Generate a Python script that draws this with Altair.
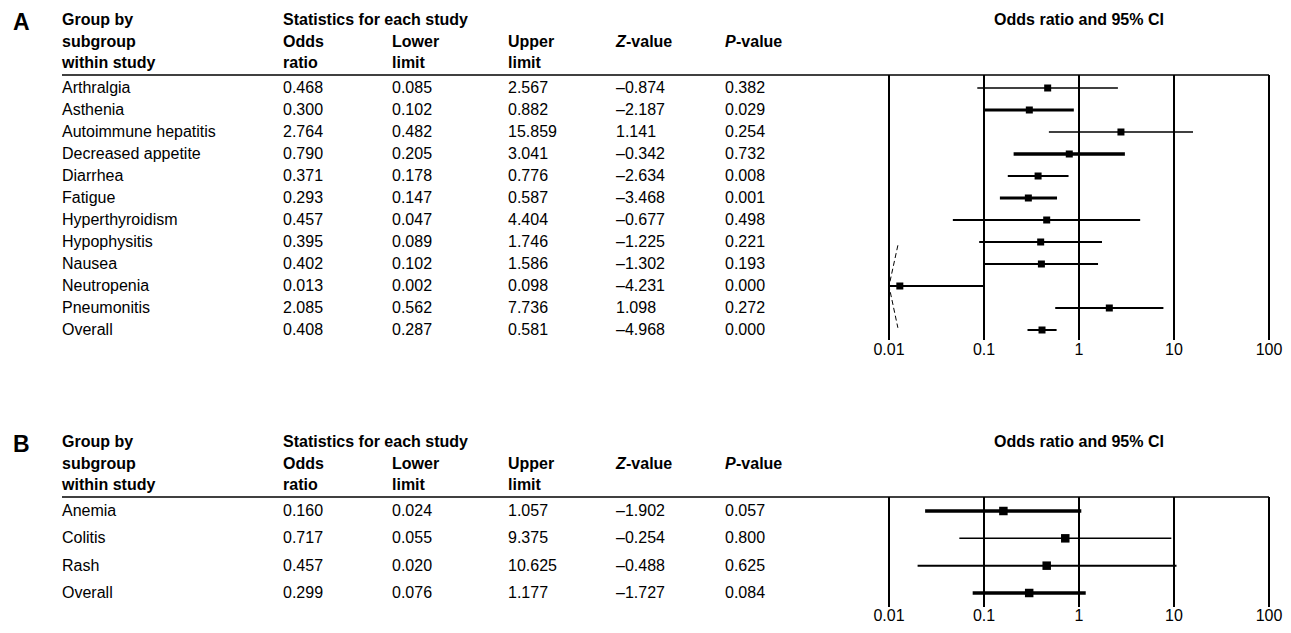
import altair as alt
import pandas as pd
import numpy as np

FONT = "Liberation Sans"

# ---------------- data: panel A ----------------
names_a = ["Arthralgia", "Asthenia", "Autoimmune hepatitis", "Decreased appetite",
           "Diarrhea", "Fatigue", "Hyperthyroidism", "Hypophysitis", "Nausea",
           "Neutropenia", "Pneumonitis", "Overall"]
or_a = [0.468, 0.300, 2.764, 0.790, 0.371, 0.293, 0.457, 0.395, 0.402, 0.013, 2.085, 0.408]
lo_a = [0.085, 0.102, 0.482, 0.205, 0.178, 0.147, 0.047, 0.089, 0.102, 0.002, 0.562, 0.287]
hi_a = [2.567, 0.882, 15.859, 3.041, 0.776, 0.587, 4.404, 1.746, 1.586, 0.098, 7.736, 0.581]
z_a = [-0.874, -2.187, 1.141, -0.342, -2.634, -3.468, -0.677, -1.225, -1.302, -4.231, 1.098, -4.968]
p_a = [0.382, 0.029, 0.254, 0.732, 0.008, 0.001, 0.498, 0.221, 0.193, 0.000, 0.272, 0.000]

# ---------------- data: panel B ----------------
names_b = ["Anemia", "Colitis", "Rash", "Overall"]
or_b = [0.160, 0.717, 0.457, 0.299]
lo_b = [0.024, 0.055, 0.020, 0.076]
hi_b = [1.057, 9.375, 10.625, 1.177]
z_b = [-1.902, -0.254, -0.488, -1.727]
p_b = [0.057, 0.800, 0.625, 0.084]

ticks = [0.01, 0.1, 1, 10, 100]
tick_labels = ["0.01", "0.1", "1", "10", "100"]

# styles (line weights of each CI)
ci_width_a = [1.5, 3, 1.5, 3.5, 2, 3, 2, 2, 2, 2, 2, 2]
ci_width_b = [3.5, 1.5, 2, 3.5]

W, H = 1275, 616
X0, X100 = 881, 1261
xscale = alt.Scale(type="log", domain=[0.01, 100], range=[X0, X100])
COLX = {"name": 54, "or": 275, "lo": 384, "hi": 500, "z": 608, "p": 717}


def fmt(v):
    return f"{v:.3f}".replace("-", "\u2013")


def txt(text, x, y, bold=False, italic=False, size=16, align="left"):
    return alt.Chart(pd.DataFrame({"t": [text]})).mark_text(
        align=align, baseline="middle", fontSize=size, font=FONT,
        fontWeight="bold" if bold else "normal",
        fontStyle="italic" if italic else "normal", color="black"
    ).encode(x=alt.value(x), y=alt.value(y), text="t:N")


def panel(letter, names, ors, los, his, zs, ps, widths, off, row_range,
          line_bottom, tick_y, sq_size, arrow=None):
    n = len(names)
    df = pd.DataFrame({
        "row": list(range(n)),
        "name": names,
        "or": ors, "lo": los, "hi": his,
        "lo_c": np.maximum(np.array(los), 0.01),
        "or_s": [fmt(v) for v in ors], "lo_s": [fmt(v) for v in los],
        "hi_s": [fmt(v) for v in his], "z_s": [fmt(v) for v in zs],
        "p_s": [fmt(v) for v in ps],
        "w": widths,
    })
    ys = alt.Scale(domain=[0, n - 1], range=row_range)
    Y = alt.Y("row:Q", scale=ys, axis=None)
    layers = []
    hy = [off + 12, off + 34, off + 55]
    layers.append(txt(letter, 5, off + 15, bold=True, size=23))
    layers += [
        txt("Group by", COLX["name"], hy[0], bold=True),
        txt("subgroup", COLX["name"], hy[1], bold=True),
        txt("within study", COLX["name"], hy[2], bold=True),
        txt("Statistics for each study", COLX["or"], hy[0], bold=True),
        txt("Odds", COLX["or"], hy[1], bold=True),
        txt("ratio", COLX["or"], hy[2], bold=True),
        txt("Lower", COLX["lo"], hy[1], bold=True),
        txt("limit", COLX["lo"], hy[2], bold=True),
        txt("Upper", COLX["hi"], hy[1], bold=True),
        txt("limit", COLX["hi"], hy[2], bold=True),
        txt("Z", COLX["z"], hy[1], bold=True, italic=True),
        txt("-value", COLX["z"] + 10, hy[1], bold=True),
        txt("P", COLX["p"], hy[1], bold=True, italic=True),
        txt("-value", COLX["p"] + 11, hy[1], bold=True),
    ]
    # forest title centred on OR = 1
    layers.append(
        alt.Chart(pd.DataFrame({"t": ["Odds ratio and 95% CI"]})).mark_text(
            align="center", baseline="middle", fontSize=16, font=FONT,
            fontWeight="bold", color="black"
        ).encode(x=alt.XDatum(1, scale=xscale, axis=None), y=alt.value(hy[0]), text="t:N")
    )
    # header underline
    layers.append(
        alt.Chart(pd.DataFrame({"a": [0]})).mark_rule(color="black", strokeWidth=1.5).encode(
            x=alt.value(COLX["name"]), x2=alt.value(X100), y=alt.value(off + 67))
    )
    # table columns
    for col, key in [("name", "name"), ("or_s", "or"), ("lo_s", "lo"),
                     ("hi_s", "hi"), ("z_s", "z"), ("p_s", "p")]:
        layers.append(
            alt.Chart(df).mark_text(align="left", baseline="middle", fontSize=16,
                                    font=FONT, color="black").encode(
                x=alt.value(COLX[key]), y=Y, text=f"{col}:N")
        )
    # decade lines and labels
    tdf = pd.DataFrame({"tick": ticks, "label": tick_labels})
    layers.append(
        alt.Chart(tdf).mark_rule(color="black", strokeWidth=2).encode(
            x=alt.X("tick:Q", scale=xscale, axis=None),
            y=alt.value(off + 67), y2=alt.value(line_bottom))
    )
    layers.append(
        alt.Chart(tdf).mark_text(baseline="middle", align="center", fontSize=16,
                                 font=FONT, color="black").encode(
            x=alt.X("tick:Q", scale=xscale, axis=None),
            y=alt.value(tick_y), text="label:N")
    )
    # confidence intervals
    layers.append(
        alt.Chart(df).mark_rule(color="black").encode(
            x=alt.X("lo_c:Q", scale=xscale, axis=None), x2="hi:Q", y=Y,
            strokeWidth=alt.StrokeWidth("w:Q", scale=None, legend=None))
    )
    layers.append(
        alt.Chart(df).mark_square(filled=True, color="black", opacity=1, size=sq_size).encode(
            x=alt.X("or:Q", scale=xscale, axis=None), y=Y)
    )
    if arrow is not None:
        adf = pd.DataFrame({"ax": arrow[0], "ay": arrow[1], "o": list(range(len(arrow[0])))})
        layers.append(
            alt.Chart(adf).mark_line(color="black", strokeWidth=1, strokeDash=[5, 3]).encode(
                x=alt.X("ax:Q", scale=xscale, axis=None),
                y=alt.Y("ay:Q", scale=ys, axis=None), order="o:Q")
        )
    return layers


arrow_a = ([0.0124, 0.01, 0.0124], [7.15, 9.0, 10.9])

offA = 0
offB = 422
layers = []
layers += panel("A", names_a, or_a, lo_a, hi_a, z_a, p_a, ci_width_a, offA,
                [80, 322], 332, 342, 49, arrow=arrow_a)
layers += panel("B", names_b, or_b, lo_b, hi_b, z_b, p_b, ci_width_b, offB,
                [offB + 81, offB + 163], offB + 177, offB + 186, 72)

chart = alt.layer(*layers).resolve_scale(y="independent").properties(
    width=W, height=H, padding=0,
    autosize=alt.AutoSizeParams(type="none"),
    background="white",
).configure_view(stroke=None)

chart.save("out.html", embed_options={"renderer": "svg", "actions": False})
